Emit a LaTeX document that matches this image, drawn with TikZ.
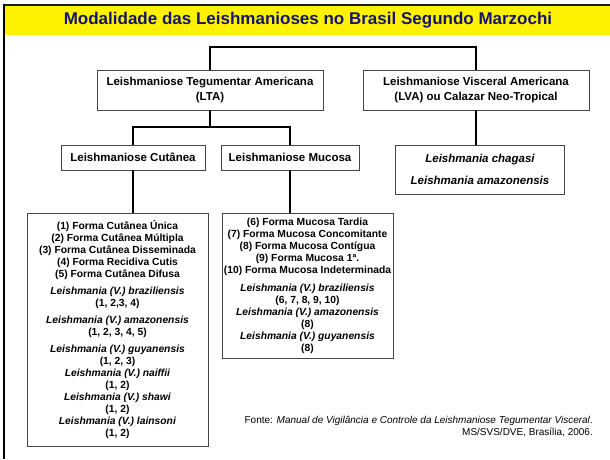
\documentclass[tikz,border=0pt]{standalone}
\usepackage{fontspec}
\setmainfont{Liberation Sans}
\usepackage{xcolor}

\definecolor{titlenavy}{RGB}{20,20,110}
\definecolor{boxgray}{RGB}{70,70,70}
\definecolor{framedark}{RGB}{30,30,0}

\begin{document}
\begin{tikzpicture}[x=1pt,y=-1pt,
    box/.style={draw=boxgray,line width=0.8pt,fill=white,align=center,inner sep=0pt,
        font=\fontsize{11.5}{15}\selectfont\bfseries},
    listbox/.style={draw=boxgray,line width=0.8pt,fill=white,align=center,inner sep=0pt,
        font=\fontsize{10.3}{12}\selectfont\bfseries},
    link/.style={line width=2pt,black}]
\useasboundingbox (0,0) rectangle (610,459);

    \fill[yellow] (5,6) rectangle (610,35);
    \draw[framedark,line width=2.5pt] (3,5) -- (610,5);
    \draw[black,line width=2pt] (4,4) -- (4,459);
    \node[font=\fontsize{17}{20}\selectfont\bfseries,text=titlenavy] (title) at (308,20.5)
        {Modalidade das Leishmanioses no Brasil Segundo Marzochi};

    \node[box,minimum width=226,minimum height=40] (lta) at (210,90)
        {Leishmaniose Tegumentar Americana\\(LTA)};
    \node[box,minimum width=226,minimum height=40] (lva) at (476,90)
        {Leishmaniose Visceral Americana\\(LVA) ou Calazar Neo-Tropical};

    \node[box,minimum width=144,minimum height=25] (cut) at (133,157.5) {Leishmaniose Cutânea};
    \node[box,minimum width=138,minimum height=25] (muc) at (290,157.5) {Leishmaniose Mucosa};
    \node[box,minimum width=169,minimum height=49,font=\fontsize{11.5}{22}\selectfont\bfseries\itshape]
        (spp) at (480,169.5) {Leishmania chagasi\\Leishmania amazonensis};

    \node[listbox,minimum width=181,minimum height=233] (cutlist) at (117.5,329.5)
        {(1) Forma Cutânea Única\\
         (2) Forma Cutânea Múltipla\\
         (3) Forma Cutânea Disseminada\\
         (4) Forma Recidiva Cutis\\
         (5) Forma Cutânea Difusa\\[5pt]
         \textit{Leishmania (V.) braziliensis}\\
         (1, 2,3, 4)\\[5pt]
         \textit{Leishmania (V.)\ amazonensis}\\
         (1, 2, 3, 4, 5)\\[5pt]
         \textit{Leishmania (V.) guyanensis}\\
         (1, 2, 3)\\
         \textit{Leishmania (V.) naiffii}\\
         (1, 2)\\
         \textit{Leishmania (V.) shawi}\\
         (1, 2)\\
         \textit{Leishmania (V.) lainsoni}\\
         (1, 2)};
    \node[listbox,minimum width=171,minimum height=145] (muclist) at (307.5,285.5)
        {(6) Forma Mucosa Tardia\\
         (7) Forma Mucosa Concomitante\\
         (8) Forma Mucosa Contígua\\
         (9) Forma Mucosa 1ª.\\
         (10) Forma Mucosa Indeterminada\\[6pt]
         \textit{Leishmania (V.) braziliensis}\\
         (6, 7, 8, 9, 10)\\
         \textit{Leishmania (V.) amazonensis}\\
         (8)\\
         \textit{Leishmania (V.) guyanensis}\\
         (8)};

    \coordinate (topbar) at (340,47);
    \coordinate (ltafork) at (210,127);
    \draw[link] (lta.north) |- (topbar) -| (lva.north);
    \draw[link] (lta.south) -- (ltafork);
    \draw[link] (cut.north) |- (ltafork) -| (muc.north);
    \draw[link] (lva.south) -- (lva.south |- spp.north);
    \draw[link] (cut.south) -- (cut.south |- cutlist.north);
    \draw[link] (muc.south) -- (muc.south |- muclist.north);

    \node[align=right,anchor=north east,inner sep=0pt,font=\fontsize{10}{12}\selectfont] (fonte)
        at (593,416) {Fonte: \textit{Manual de Vigilância e Controle da Leishmaniose Tegumentar Visceral}.\\
        MS/SVS/DVE, Brasília, 2006.};
\end{tikzpicture}
\end{document}
